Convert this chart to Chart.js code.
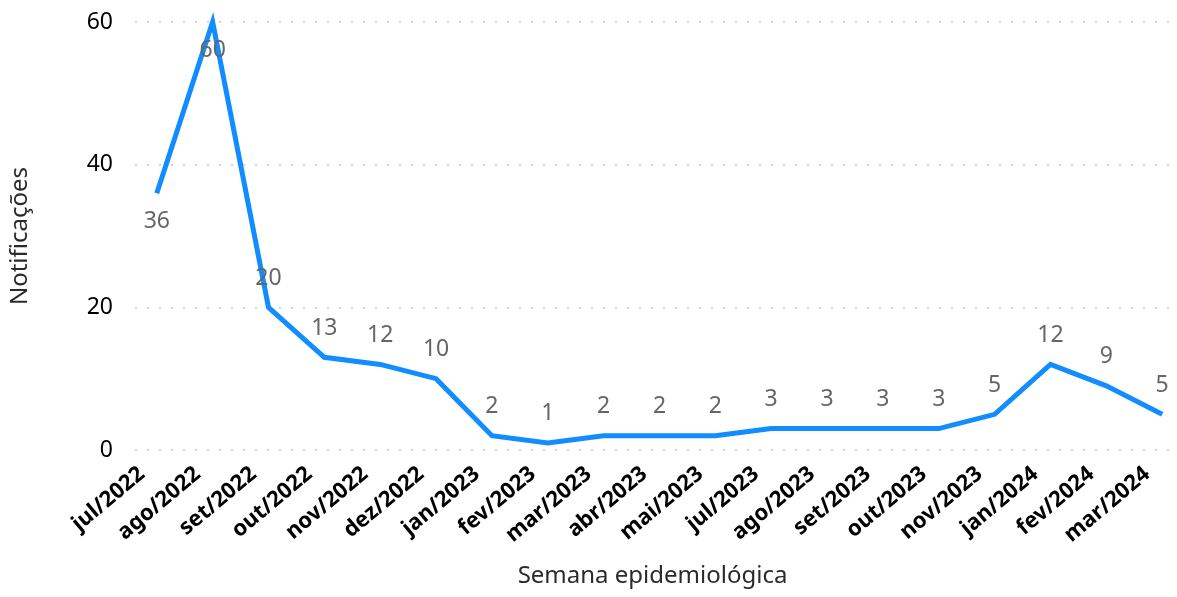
<!DOCTYPE html>
<html>
<head>
<meta charset="utf-8">
<script src="https://cdn.jsdelivr.net/npm/chart.js@4"></script>
<style>
    html, body { margin: 0; padding: 0; background: #fff; }
    #wrap { width: 1177px; height: 597px; }
</style>
</head>
<body>
<div id="wrap"><canvas id="chart"></canvas></div>
<script>
const months = ['jul/2022', 'ago/2022', 'set/2022', 'out/2022', 'nov/2022', 'dez/2022',
    'jan/2023', 'fev/2023', 'mar/2023', 'abr/2023', 'mai/2023', 'jul/2023', 'ago/2023',
    'set/2023', 'out/2023', 'nov/2023', 'jan/2024', 'fev/2024', 'mar/2024'];
const notificacoes = [36, 60, 20, 13, 12, 10, 2, 1, 2, 2, 2, 3, 3, 3, 3, 5, 12, 9, 5];
const yTicks = [0, 20, 40, 60];

const FONT = "'Segoe UI', 'Noto Sans', sans-serif";
// labels that Power BI pushed under the line
const labelsBelow = ['jul/2022', 'ago/2022'];

const dataLabels = {
    id: 'dataLabels',
    afterDatasetsDraw(chart) {
        const ctx = chart.ctx;
        const meta = chart.getDatasetMeta(0);
        ctx.save();
        ctx.font = '23px ' + FONT;
        ctx.fillStyle = '#666666';
        ctx.textAlign = 'center';
        ctx.textBaseline = 'middle';
        meta.data.forEach((pt, i) => {
            const below = labelsBelow.includes(months[i]);
            ctx.fillText(String(notificacoes[i]), pt.x, pt.y + (below ? 28 : -29));
        });
        ctx.restore();
    }
};

const ctx = document.getElementById('chart').getContext('2d');
new Chart(ctx, {
    type: 'line',
    data: {
        datasets: [{
            data: notificacoes.map((v, i) => ({x: i, y: v})),
            borderColor: '#118DFF',
            borderWidth: 5,
            pointRadius: 0,
            tension: 0,
            clip: false,
        }]
    },
    options: {
        responsive: true,
        maintainAspectRatio: false,
        animation: false,
        layout: { padding: { top: 22, right: 7, left: 0, bottom: 0 } },
        plugins: { legend: { display: false }, tooltip: { enabled: false } },
        scales: {
            x: {
                type: 'linear',
                min: -0.39,
                max: 18.14,
                afterBuildTicks: s => { s.ticks = months.map((_, i) => ({value: i})); },
                afterFit: s => { s.height = 147; s.paddingLeft = 0; s.paddingRight = 0; },
                border: { display: false },
                grid: { display: false, drawTicks: false },
                ticks: {
                    autoSkip: false,
                    minRotation: 40,
                    maxRotation: 40,
                    padding: 11,
                    labelOffset: -15,
                    color: '#000',
                    font: { family: FONT, size: 22, weight: 'bold' },
                    callback: v => months[v],
                },
                title: {
                    display: true,
                    text: 'Semana epidemiológica',
                    color: '#2b2b2b',
                    font: { family: FONT, size: 24 },
                    padding: { top: 0, bottom: 6 },
                },
            },
            y: {
                min: 0,
                max: 60,
                afterBuildTicks: s => { s.ticks = yTicks.map(v => ({value: v})); },
                afterFit: s => { s.width = 135; s.paddingTop = 0; s.paddingBottom = 0; },
                border: { display: false, dash: [2, 10] },
                grid: {
                    drawTicks: false,
                    color: '#C8C6C4',
                    lineWidth: 1.5,
                },
                ticks: {
                    padding: 22,
                    color: '#000',
                    font: { family: FONT, size: 23 },
                },
                title: {
                    display: true,
                    text: 'Notificações',
                    color: '#2b2b2b',
                    font: { family: FONT, size: 24 },
                    padding: { top: 6, bottom: 0 },
                },
            },
        },
    },
    plugins: [dataLabels],
});
</script>
</body>
</html>
